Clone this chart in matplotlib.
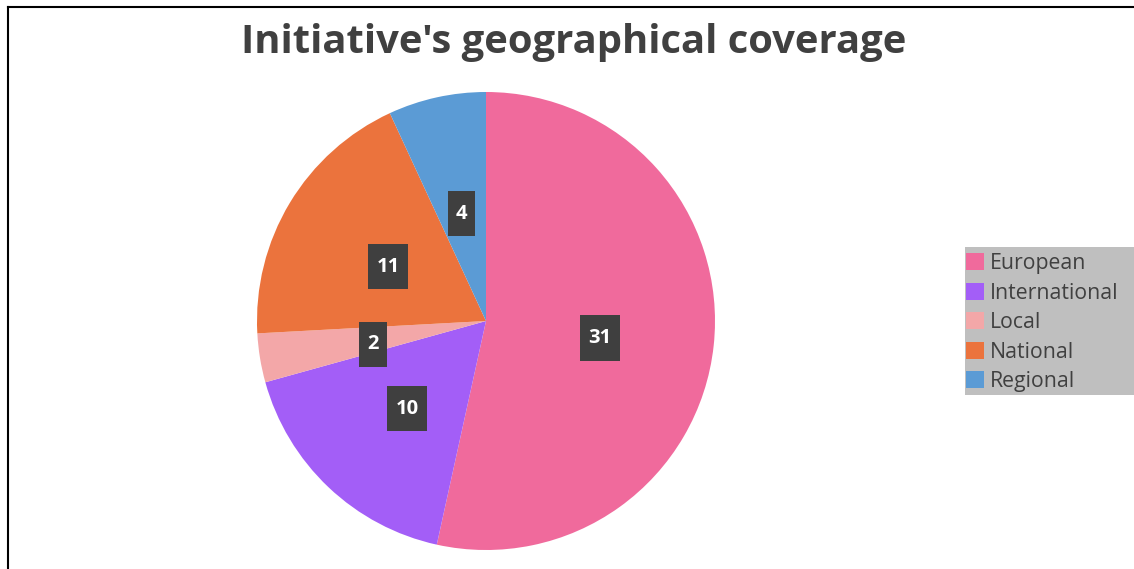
import matplotlib.pyplot as plt
from matplotlib.lines import Line2D
from matplotlib.patches import Rectangle
import numpy as np

plt.rcParams["font.family"] = ["Open Sans", "DejaVu Sans"]

# Coverage of the initiatives
categories = ["European", "International", "Local", "National", "Regional"]
counts = [31, 10, 2, 11, 4]
colors = ["#F06A9C", "#A35EF7", "#F3A7A8", "#EB733D", "#5B9BD5"]

W, H = 1134, 569
fig = plt.figure(figsize=(W / 100, H / 100), dpi=100)

# pie axes: centre (486, 321) px, radius 229 px
cx, cy, r = 486, 321, 229
ax = fig.add_axes([(cx - r) / W, (H - cy - r) / H, 2 * r / W, 2 * r / H])
wedges, _ = ax.pie(
    counts,
    colors=colors,
    startangle=90,
    counterclock=False,
    radius=1,
    wedgeprops={"linewidth": 0},
)
ax.set_xlim(-1, 1)
ax.set_ylim(-1, 1)
ax.set_aspect("equal")
ax.axis("off")

# value labels in dark boxes
box_h = 0.197
for w, val in zip(wedges, counts):
    mid = np.deg2rad((w.theta1 + w.theta2) / 2)
    x, y = 0.5 * np.cos(mid), 0.5 * np.sin(mid) - 0.02
    txt = str(val)
    box_w = 0.061 + 0.057 * len(txt)
    ax.add_patch(Rectangle((x - box_w / 2, y - box_h / 2), box_w, box_h,
                           facecolor="#3F3F3F", edgecolor="none", zorder=3))
    ax.text(x, y, txt, ha="center", va="center", color="white",
            fontsize=14.5, fontweight="bold", zorder=4)

fig.text(574 / W, 1 - 42 / H, "Initiative's geographical coverage",
         ha="center", va="center", fontsize=28.8, fontweight="bold",
         color="#404040")

# grey legend panel running to the right edge
fig.add_artist(Rectangle((965 / W, 1 - 395 / H), 1 - 965 / W, 148 / H,
                         transform=fig.transFigure, facecolor="#BFBFBF",
                         edgecolor="none", zorder=0))
leg = fig.legend(
    wedges, categories,
    loc="upper left",
    bbox_to_anchor=(963 / W, 1 - 250 / H),
    frameon=False,
    borderaxespad=0,
    borderpad=0.15,
    handlelength=0.85,
    handleheight=0.85,
    handletextpad=0.25,
    labelspacing=0.40,
    fontsize=15.3,
    labelcolor="#404040",
)

# outer border lines (top and left)
fig.add_artist(Line2D([8 / W, 1], [1 - 7 / H, 1 - 7 / H], color="black", lw=1.5))
fig.add_artist(Line2D([8 / W, 8 / W], [0, 1 - 7 / H], color="black", lw=1.5))

fig.savefig("out.png", dpi=100)
